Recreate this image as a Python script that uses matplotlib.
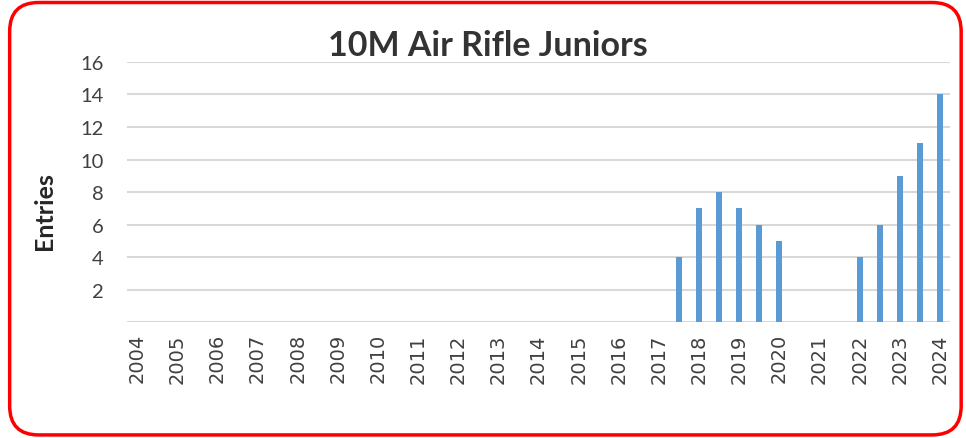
import matplotlib
matplotlib.use("Agg")
import matplotlib.pyplot as plt
from matplotlib.patches import FancyBboxPatch

# categories run in half-year steps, only whole years get a label
categories = [2004 + 0.5 * i for i in range(41)]
tick_labels = [str(int(c)) if c == int(c) else "" for c in categories]
bar_years = [2017.5, 2018, 2018.5, 2019, 2019.5, 2020, 2022, 2022.5, 2023, 2023.5, 2024]
entries = [4, 7, 8, 7, 6, 5, 4, 6, 9, 11, 14]

positions = [categories.index(y) for y in bar_years]

fig = plt.figure(figsize=(9.66, 4.39), dpi=100)
ax = fig.add_axes([0.1315, 0.2642, 0.9834 - 0.1315, 0.8565 - 0.2642])

ax.bar(positions, entries, width=0.3, color="#5b9bd5", zorder=3)

ax.set_xlim(-0.5, len(categories) - 0.5)
ax.set_ylim(0, 16)
ax.set_yticks(range(0, 17, 2))
ax.set_yticklabels([""] + [str(v) for v in range(2, 17, 2)],
                   fontsize=14.5, color="#404040", family="Lato")
ax.set_xticks(range(len(categories)))
ax.set_xticklabels(tick_labels, rotation=90, fontsize=14, color="#404040")
ax.tick_params(length=0, pad=8)
ax.tick_params(axis="y", pad=17)
ax.grid(axis="y", color="#d9d9d9", linewidth=1.5, zorder=0)
for s in ax.spines.values():
    s.set_visible(False)

fig.text(0.046, 0.52, "Entries", rotation=90, ha="center", va="center",
         fontsize=18, fontweight="bold", color="#262626", family="Lato")
fig.text(0.505, 0.895, "10M Air Rifle Juniors", ha="center", va="center",
         fontsize=24.5, fontweight="bold", color="#333333", family="Lato")

border = FancyBboxPatch((0.010, 0.007), 0.985, 0.985,
                        boxstyle="round,pad=0,rounding_size=0.03",
                        transform=fig.transFigure, fill=False,
                        edgecolor="red", linewidth=2.5, mutation_aspect=966 / 439)
fig.patches.append(border)

fig.savefig("out.png", dpi=100)
